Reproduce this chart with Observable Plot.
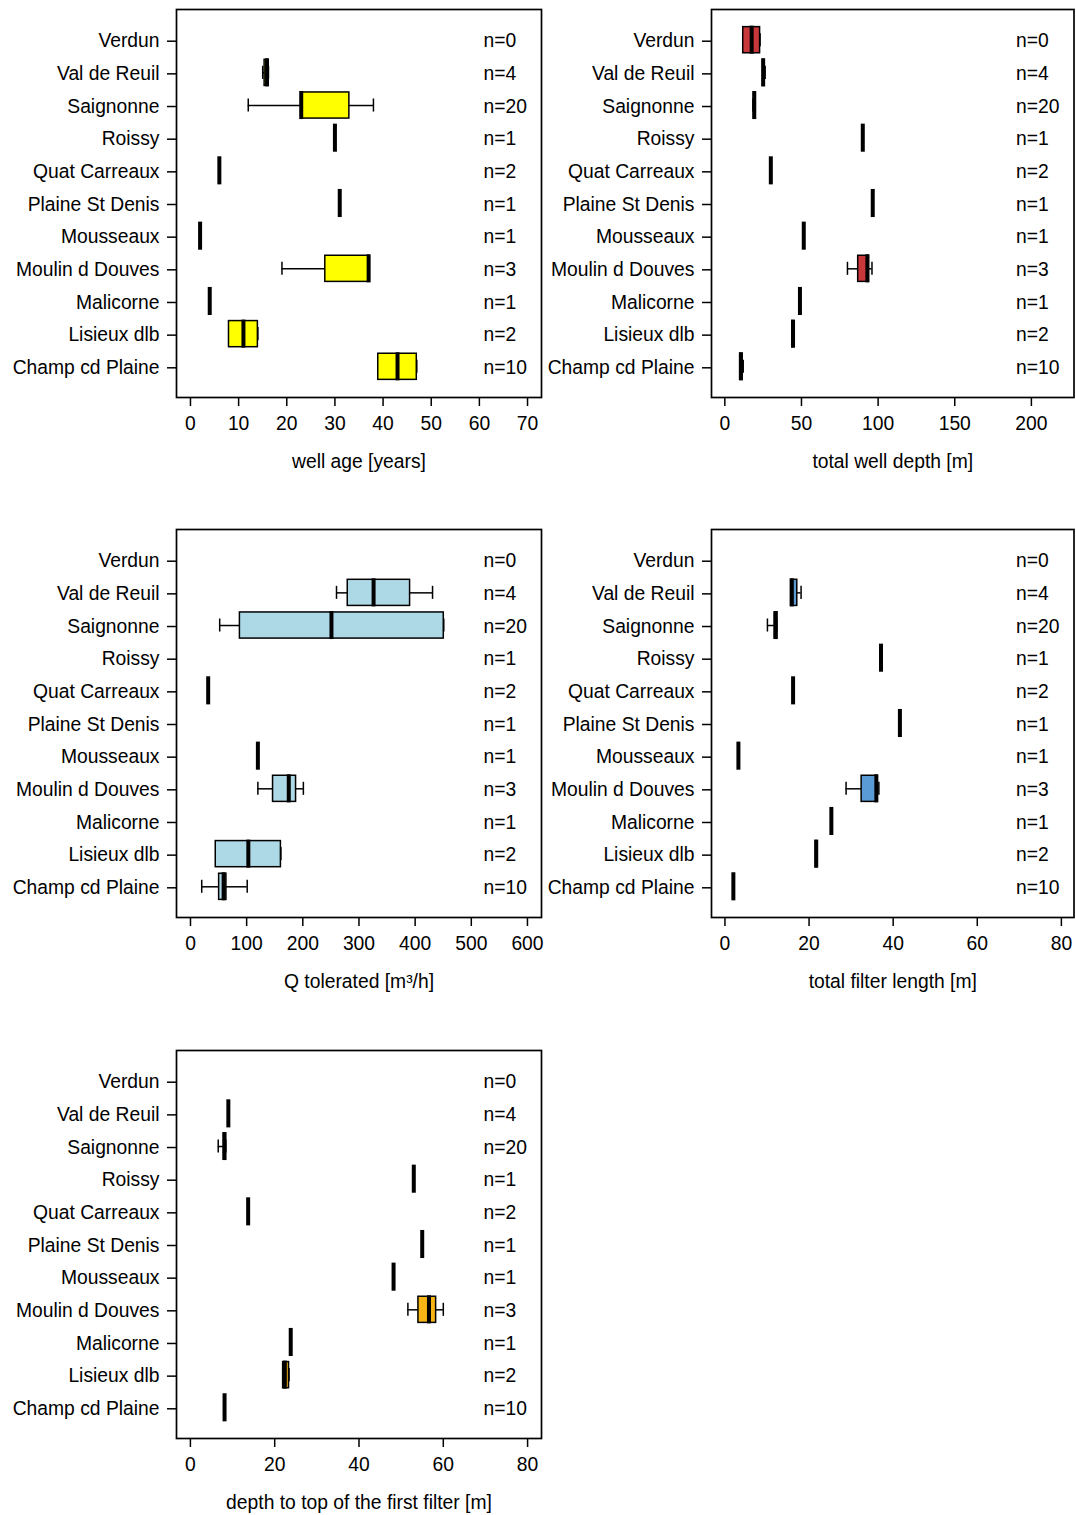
<!DOCTYPE html>
<html>
<head>
<meta charset="utf-8">
<script src="https://cdn.jsdelivr.net/npm/d3@7"></script>
<script src="https://cdn.jsdelivr.net/npm/@observablehq/plot@0.6"></script>
<style>
  html, body { margin: 0; padding: 0; background: #fff; }
  #wrap { position: relative; width: 1076px; height: 1515px; background: #fff; font-family: "Liberation Sans", Arial, sans-serif; }
  .panel { position: absolute; }
  .panel svg { background: transparent !important; }
</style>
</head>
<body>
<div id="wrap"></div>
<script>
// Categories, top to bottom
const categories = ["Verdun", "Val de Reuil", "Saignonne", "Roissy", "Quat Carreaux", "Plaine St Denis",
  "Mousseaux", "Moulin d Douves", "Malicorne", "Lisieux dlb", "Champ cd Plaine"];
const nLabels = ["n=0", "n=4", "n=20", "n=1", "n=2", "n=1", "n=1", "n=3", "n=1", "n=2", "n=10"];

// Five-number summaries per category: [whisker low, Q1, median, Q3, whisker high]; null = no data
const wellAge = [
  null,
  [15, 15.4, 15.9, 16.1, 16.2],
  [12, 23, 23, 33, 38],
  [30, 30, 30, 30, 30],
  [6, 6, 6, 6, 6],
  [31, 31, 31, 31, 31],
  [2, 2, 2, 2, 2],
  [19, 28, 37, 37, 37],
  [4, 4, 4, 4, 4],
  [8, 8, 11, 14, 14],
  [39, 39, 43, 47, 47]
];
const wellDepth = [
  [12, 12, 17.5, 23, 23],
  [25, 25, 25, 26, 26.3],
  [18.3, 19, 19.2, 19.5, 19.8],
  [90, 90, 90, 90, 90],
  [30, 30, 30, 30, 30],
  [96.5, 96.5, 96.5, 96.5, 96.5],
  [51.5, 51.5, 51.5, 51.5, 51.5],
  [80, 87, 93, 94, 96],
  [49, 49, 49, 49, 49],
  [44, 44, 44.5, 45, 45],
  [10, 10, 10.5, 11.5, 12]
];
const qTolerated = [
  null,
  [260, 280, 326, 391, 431],
  [52, 88, 251, 451, 451],
  null,
  [31.5, 31.5, 31.5, 31.5, 31.5],
  null,
  [120, 120, 120, 120, 120],
  [120, 147, 175, 188, 201],
  null,
  [45, 45, 103, 161, 161],
  [20, 51, 59, 64, 101]
];
const filterLength = [
  null,
  [15.7, 15.7, 15.9, 17.2, 18.1],
  [10.1, 11.8, 12.1, 12.3, 12.3],
  [37.1, 37.1, 37.1, 37.1, 37.1],
  [16.2, 16.2, 16.2, 16.2, 16.2],
  [41.6, 41.6, 41.6, 41.6, 41.6],
  [3.2, 3.2, 3.2, 3.2, 3.2],
  [28.8, 32.5, 36, 36.2, 36.6],
  [25.3, 25.3, 25.3, 25.3, 25.3],
  [21.6, 21.6, 21.7, 21.9, 21.9],
  [2, 2, 2, 2, 2]
];
const filterTop = [
  null,
  [9, 9, 9, 9, 9],
  [6.6, 7.9, 8.1, 8.3, 8.4],
  [53, 53, 53, 53, 53],
  [13.7, 13.7, 13.7, 13.7, 13.7],
  [55, 55, 55, 55, 55],
  [48.2, 48.2, 48.2, 48.2, 48.2],
  [51.6, 54.1, 56.6, 58.3, 60],
  [23.8, 23.8, 23.8, 23.8, 23.8],
  [22, 22, 22.4, 23.4, 23.4],
  [8.1, 8.1, 8.1, 8.1, 8.1]
];

// Axis tick values
const ageTicks = [0, 10, 20, 30, 40, 50, 60, 70];
const depthTicks = [0, 50, 100, 150, 200];
const qTicks = [0, 100, 200, 300, 400, 500, 600];
const lengthTicks = [0, 20, 40, 60, 80];
const topTicks = [0, 20, 40, 60, 80];

const FONT = "Liberation Sans, Arial, Helvetica, sans-serif";
const FS = 19.3;

function panel({summary, ticks, xDomain, fill, title, left, top, width, height, marginLeft, marginRight, marginTop, marginBottom}) {
  const rows = summary.map((s, i) => s ? {pos: i + 1, lo: s[0], q1: s[1], med: s[2], q3: s[3], hi: s[4]} : null).filter(Boolean);
  const nRows = nLabels.map((t, i) => ({pos: i + 1, t}));
  const plot = Plot.plot({
    width, height, marginLeft, marginRight, marginTop, marginBottom,
    style: {fontFamily: FONT, fontSize: FS + "px", background: "transparent", overflow: "visible", color: "black"},
    x: {domain: xDomain},
    y: {domain: [0.06, 11.94], reverse: true},
    marks: [
      // whiskers
      Plot.ruleY(rows, {y: "pos", x1: "lo", x2: "q1", stroke: "black", strokeWidth: 1.5}),
      Plot.ruleY(rows, {y: "pos", x1: "q3", x2: "hi", stroke: "black", strokeWidth: 1.5}),
      // staples
      Plot.ruleX(rows, {x: "lo", y1: d => d.pos - 0.2, y2: d => d.pos + 0.2, stroke: "black", strokeWidth: 1.5}),
      Plot.ruleX(rows, {x: "hi", y1: d => d.pos - 0.2, y2: d => d.pos + 0.2, stroke: "black", strokeWidth: 1.5}),
      // boxes
      Plot.rect(rows, {x1: "q1", x2: "q3", y1: d => d.pos - 0.4, y2: d => d.pos + 0.4, fill, stroke: "black", strokeWidth: 1.5}),
      // medians
      Plot.ruleX(rows, {x: "med", y1: d => d.pos - 0.43, y2: d => d.pos + 0.43, stroke: "black", strokeWidth: 4}),
      // n labels
      Plot.text(nRows, {y: "pos", text: "t", frameAnchor: "right", dx: -58, dy: 1, textAnchor: "start", fontSize: FS, fill: "black"}),
      Plot.frame({stroke: "black", strokeWidth: 1.7}),
      Plot.axisY({ticks: d3.range(1, 12), tickFormat: p => categories[p - 1], tickSize: 9, tickPadding: 8, fontSize: FS, label: null, strokeWidth: 1.5, dy: 1}),
      Plot.axisX({ticks, tickFormat: d => String(d), tickSize: 9, tickPadding: 10, fontSize: FS, label: null, strokeWidth: 1.5}),
      Plot.text([title], {text: d => d, frameAnchor: "bottom", dy: 70, fontSize: FS, fill: "black"})
    ]
  });
  const div = document.createElement("div");
  div.className = "panel";
  div.style.left = left + "px";
  div.style.top = top + "px";
  div.appendChild(plot);
  document.getElementById("wrap").appendChild(div);
}

panel({summary: wellAge, ticks: ageTicks, xDomain: [-2.9, 72.9], fill: "#ffff00", title: "well age [years]",
  left: 0, top: 0, width: 545, height: 480, marginLeft: 176, marginRight: 4, marginTop: 9, marginBottom: 83});
panel({summary: wellDepth, ticks: depthTicks, xDomain: [-8.7, 227.8], fill: "#c8373a", title: "total well depth [m]",
  left: 545, top: 0, width: 531, height: 480, marginLeft: 166, marginRight: 2.5, marginTop: 9, marginBottom: 83});
panel({summary: qTolerated, ticks: qTicks, xDomain: [-24.9, 625], fill: "#add8e6", title: "Q tolerated [m³/h]",
  left: 0, top: 520, width: 545, height: 480, marginLeft: 176, marginRight: 4, marginTop: 9, marginBottom: 83});
panel({summary: filterLength, ticks: lengthTicks, xDomain: [-3.2, 83.0], fill: "#5b9bd5", title: "total filter length [m]",
  left: 545, top: 520, width: 531, height: 480, marginLeft: 166, marginRight: 2.5, marginTop: 9, marginBottom: 83});
panel({summary: filterTop, ticks: topTicks, xDomain: [-3.3, 83.3], fill: "#f6b514", title: "depth to top of the first filter [m]",
  left: 0, top: 1040, width: 545, height: 475, marginLeft: 176, marginRight: 4, marginTop: 10, marginBottom: 77});
</script>
</body>
</html>
